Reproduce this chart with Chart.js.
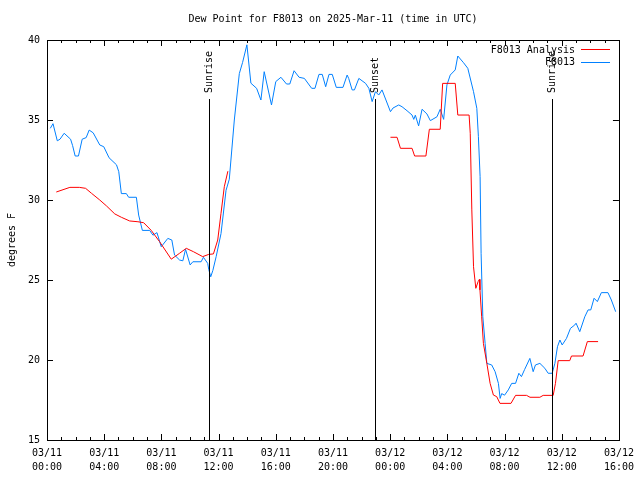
<!DOCTYPE html>
<html>
<head>
<meta charset="utf-8">
<script src="https://cdn.jsdelivr.net/npm/chart.js@4"></script>
<style>
  body { margin: 0; background: #fff; }
  canvas { display: block; }
</style>
</head>
<body>
<canvas id="dewChart" width="640" height="480"></canvas>
<script>
// hours since 03/11 00:00 UTC
let obsTimes = [0.23, 0.42, 0.72, 0.91, 1.20, 1.65, 1.79, 1.97, 2.20, 2.46, 2.74, 2.95, 3.23, 3.69, 3.97, 4.34, 4.86, 5.02,
    5.20, 5.55, 5.71, 6.25, 6.41, 6.67, 7.18, 7.41, 7.69, 7.99, 8.45, 8.73, 8.92, 9.27, 9.50, 9.69, 10.01, 10.20, 10.78,
    10.94, 11.24, 11.31, 11.45, 11.60, 11.83, 12.17, 12.52, 12.75, 13.10, 13.45, 13.68, 13.98, 14.26, 14.66, 14.96,
    15.19, 15.70, 16.00, 16.36, 16.75, 16.98, 17.28, 17.63, 18.00, 18.51, 18.74, 19.02, 19.25, 19.49, 19.72, 19.95,
    20.23, 20.70, 20.99, 21.10, 21.34, 21.50, 21.81, 22.28, 22.51, 22.74, 22.97, 23.20, 23.43, 24.02, 24.20, 24.60,
    24.83, 25.18, 25.53, 25.65, 25.76, 25.99, 26.23, 26.57, 26.81, 27.27, 27.50, 27.74, 27.97, 28.20, 28.55, 28.73,
    29.13, 29.43, 29.83, 30.06, 30.17, 30.29, 30.36, 30.48, 30.64, 30.76, 31.10, 31.34, 31.57, 31.69, 31.80, 32.00,
    32.26, 32.50, 32.77, 33.00, 33.18, 33.40, 33.77, 34.00, 34.16, 34.47, 34.82, 35.05, 35.33, 35.52, 35.70, 35.87,
    36.03, 36.33, 36.61, 36.91, 37.00, 37.26, 37.61, 37.84, 38.03, 38.26, 38.49, 38.77, 39.23, 39.47, 39.77];
let obsValues = [34.48, 34.77, 33.70, 33.80, 34.17, 33.80, 33.40, 32.75, 32.75, 33.80, 33.90, 34.37, 34.20, 33.44, 33.33,
    32.64, 32.20, 31.77, 30.40, 30.40, 30.17, 30.17, 29.06, 28.10, 28.10, 27.80, 27.96, 27.08, 27.60, 27.50, 26.56,
    26.25, 26.20, 26.92, 25.94, 26.14, 26.14, 26.42, 26.04, 25.67, 25.20, 25.60, 26.46, 27.90, 30.60, 31.30, 35.00,
    37.90, 38.60, 39.70, 37.30, 36.98, 36.25, 38.02, 35.94, 37.40, 37.67, 37.25, 37.25, 38.08, 37.67, 37.60, 36.98,
    36.98, 37.85, 37.85, 37.08, 37.85, 37.85, 37.04, 37.04, 37.81, 37.60, 36.88, 36.88, 37.60, 37.29, 36.98, 36.15,
    36.77, 36.56, 36.88, 35.52, 35.75, 35.94, 35.83, 35.58, 35.31, 35.04, 35.30, 34.63, 35.67, 35.38, 34.96, 35.20,
    35.67, 35.04, 37.19, 37.81, 38.13, 39.00, 38.58, 38.23, 36.77, 35.73, 33.96, 31.46, 26.67, 22.70, 21.04, 19.79,
    19.69, 19.27, 18.54, 17.60, 17.90, 17.80, 18.13, 18.54, 18.54, 19.17, 18.96, 19.40, 20.10, 19.27, 19.69, 19.79,
    19.48, 19.17, 19.17, 19.79, 20.83, 21.25, 20.94, 21.35, 21.98, 22.19, 22.30, 21.77, 22.70, 23.13, 23.13, 23.86,
    23.65, 24.21, 24.21, 23.75, 23.02];

let anaTimes = [0.65, 1.60, 2.26, 2.70, 3.11, 3.69, 4.16, 4.74, 5.20, 5.78, 6.36, 6.76, 7.29, 7.87, 8.69, 9.27, 9.74,
    10.24, 10.89, 11.31, 11.64, 11.94, 12.17, 12.40, 12.65, 18.00,
    24.02, 24.48, 24.72, 25.53, 25.71, 26.50, 26.74, 27.50, 27.67, 28.55, 28.73, 29.52, 29.60, 29.71, 29.83, 29.99,
    30.15, 30.24, 30.28, 30.40, 30.52, 30.76, 30.99, 31.22, 31.45, 31.68, 32.45, 32.77, 33.54, 33.78, 34.47, 34.70,
    35.40, 35.56, 35.75, 36.56, 36.68, 37.49, 37.79, 38.54];
let anaValues = [30.50, 30.79, 30.79, 30.73, 30.42, 30.00, 29.63, 29.13, 28.92, 28.69, 28.64, 28.58, 28.10, 27.40, 26.30,
    26.67, 26.98, 26.77, 26.46, 26.60, 26.63, 27.50, 29.17, 30.83, 31.80, null,
    33.92, 33.92, 33.23, 33.23, 32.75, 32.75, 34.42, 34.42, 37.29, 37.29, 35.31, 35.31, 34.17, 29.38, 25.83, 24.48,
    24.90, 25.04, 24.38, 22.70, 21.04, 19.79, 18.54, 17.81, 17.71, 17.29, 17.29, 17.79, 17.79, 17.67, 17.67, 17.79,
    17.79, 18.54, 19.96, 19.96, 20.25, 20.25, 21.15, 21.15];

// sun events (hours since 03/11 00:00 UTC)
let eventTimes = [11.31, 22.93, 35.35];
let eventLabels = ["Sunrise", "Sunset", "Sunrise"];

let yTicks = [15, 20, 25, 30, 35, 40];
let xStart = 0, xEnd = 40;

let FONT = "10px 'DejaVu Sans Mono', monospace";

function toPoints(ts, vs) {
    return ts.map((t, i) => ({ x: t, y: vs[i] }));
}

// frame, ticks, event lines, title, legend
let decor = {
    id: "decor",
    afterDatasetsDraw(chart) {
        let c = chart.ctx;
        let a = chart.chartArea;
        let xs = chart.scales.x, ys = chart.scales.y;
        c.save();
        c.strokeStyle = "#000";
        c.lineWidth = 1;
        c.beginPath();
        // event lines
        eventTimes.forEach(t => {
            let px = Math.round(xs.getPixelForValue(t)) + 0.5;
            c.moveTo(px, 99);
            c.lineTo(px, a.bottom);
        });
        // x ticks, minor every hour
        for (let h = xStart; h <= xEnd; h++) {
            let px = Math.round(xs.getPixelForValue(h)) + 0.5;
            let len = h % 4 === 0 ? 6 : 3;
            c.moveTo(px, a.bottom); c.lineTo(px, a.bottom - len);
            c.moveTo(px, a.top); c.lineTo(px, a.top + len);
        }
        yTicks.forEach(v => {
            let py = Math.round(ys.getPixelForValue(v)) + 0.5;
            c.moveTo(a.left, py); c.lineTo(a.left + 6, py);
            c.moveTo(a.right, py); c.lineTo(a.right - 6, py);
        });
        c.stroke();
        c.strokeRect(Math.round(a.left) + 0.5, Math.round(a.top) + 0.5,
            Math.round(a.right - a.left), Math.round(a.bottom - a.top));

        c.fillStyle = "#000";
        c.font = FONT;
        // event labels
        eventTimes.forEach((t, i) => {
            let px = Math.round(xs.getPixelForValue(t)) + 0.5;
            c.save();
            c.translate(px, 93);
            c.rotate(-Math.PI / 2);
            c.textAlign = "left";
            c.textBaseline = "middle";
            c.fillText(eventLabels[i], 0, 0);
            c.restore();
        });
        // title
        c.textAlign = "center";
        c.textBaseline = "middle";
        c.fillText("Dew Point for F8013 on 2025-Mar-11 (time in UTC)", 333, 19);
        // y axis title
        c.save();
        c.translate(12, 240);
        c.rotate(-Math.PI / 2);
        c.fillText("degrees F", 0, 0);
        c.restore();
        // legend
        c.textAlign = "right";
        chart.data.datasets.forEach((ds, i) => {
            let y = 50 + i * 12.5;
            c.fillStyle = "#000";
            c.fillText(ds.label, 575, y);
            c.strokeStyle = ds.borderColor;
            c.beginPath();
            c.moveTo(581, Math.round(y) - 0.5);
            c.lineTo(610, Math.round(y) - 0.5);
            c.stroke();
        });
        c.restore();
    }
};

let ctx = document.getElementById("dewChart").getContext("2d");

let chart = new Chart(ctx, {
    type: "line",
    data: {
        datasets: [{
            label: "F8013 Analysis",
            data: toPoints(anaTimes, anaValues),
            borderColor: "#ff0000",
            borderWidth: 1,
            pointRadius: 0,
            spanGaps: false,
            tension: 0
        }, {
            label: "F8013",
            data: toPoints(obsTimes, obsValues),
            borderColor: "#0080ff",
            borderWidth: 1,
            pointRadius: 0,
            tension: 0
        }]
    },
    options: {
        responsive: false,
        animation: false,
        devicePixelRatio: 1,
        layout: { padding: { top: 40, right: 19, left: 0, bottom: 0 } },
        plugins: { legend: { display: false }, tooltip: { enabled: false } },
        scales: {
            x: {
                type: "linear",
                min: xStart,
                max: xEnd,
                afterFit: s => { s.height = 40; },
                grid: { display: false, drawTicks: false },
                border: { display: false },
                ticks: {
                    stepSize: 4,
                    autoSkip: false,
                    maxRotation: 0,
                    padding: 6,
                    color: "#000",
                    font: { family: "'DejaVu Sans Mono', monospace", size: 10, lineHeight: 1.4 },
                    callback: v => {
                        let day = v < 24 ? "03/11" : "03/12";
                        let hh = String(v % 24).padStart(2, "0");
                        return [day, hh + ":00"];
                    }
                }
            },
            y: {
                min: 15,
                max: 40,
                afterFit: s => { s.width = 47; },
                grid: { display: false, drawTicks: false },
                border: { display: false },
                ticks: {
                    stepSize: 5,
                    padding: 7,
                    color: "#000",
                    font: { family: "'DejaVu Sans Mono', monospace", size: 10 }
                }
            }
        }
    },
    plugins: [decor]
});
</script>
</body>
</html>
